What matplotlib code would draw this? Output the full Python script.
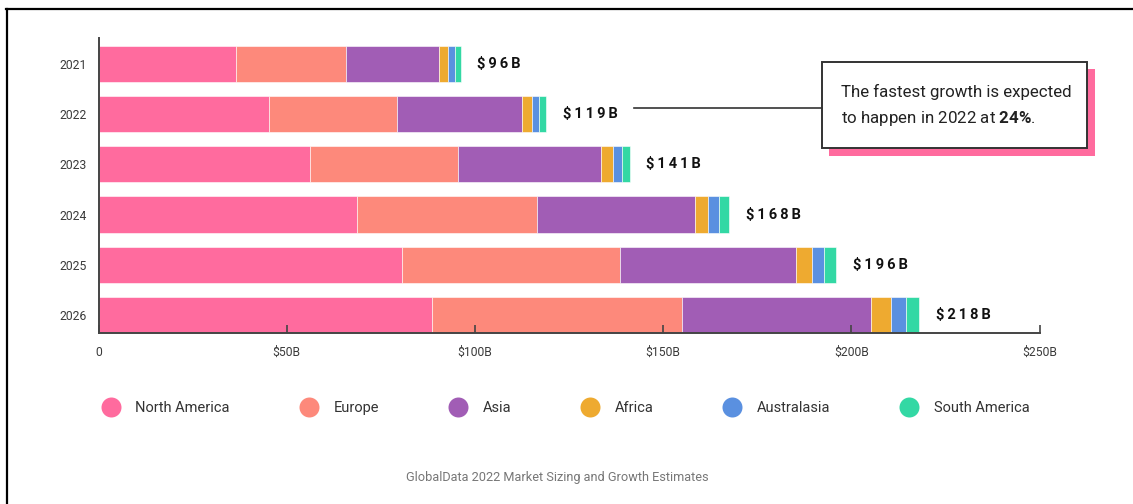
import matplotlib.pyplot as plt
from matplotlib.patches import Rectangle
from matplotlib.lines import Line2D

plt.rcParams['font.family'] = ['Roboto', 'DejaVu Sans']
plt.rcParams['mathtext.fontset'] = 'custom'
plt.rcParams['mathtext.rm'] = 'Roboto'
plt.rcParams['mathtext.bf'] = 'Roboto:bold'

years = ['2021', '2022', '2023', '2024', '2025', '2026']
regions = ['North America', 'Europe', 'Asia', 'Africa', 'Australasia', 'South America']
north_america = [36.5, 45.3, 56.2, 68.7, 80.6, 88.5]
europe = [29.3, 34.0, 39.4, 47.7, 58.0, 66.4]
asia = [24.6, 33.1, 38.0, 42.0, 46.6, 50.3]
africa = [2.4, 2.7, 3.1, 3.6, 4.3, 5.3]
australasia = [1.9, 2.0, 2.4, 2.8, 3.2, 4.0]
south_america = [1.5, 1.9, 2.0, 2.7, 3.3, 3.6]
totals = ['$96B', '$119B', '$141B', '$168B', '$196B', '$218B']
xticks = [0, 50, 100, 150, 200, 250]
xticklabels = ['0', '$50B', '$100B', '$150B', '$200B', '$250B']
colors = ['#ff6b9e', '#fd897b', '#a15db5', '#eeaa30', '#5a90e0', '#33d8a4']

fig = plt.figure(figsize=(11.33, 5.04), dpi=100)
ax = fig.add_axes([0.087, 0.3387, 0.8305, 0.5853])

ypos = [5 - i for i in range(len(years))]
series = [north_america, europe, asia, africa, australasia, south_america]
left = [0.0] * len(years)
for vals, c in zip(series, colors):
    ax.barh(ypos, vals, left=left, height=0.72, color=c, edgecolor='white', linewidth=0.4)
    left = [l + v for l, v in zip(left, vals)]

for y, end, lab in zip(ypos, left, totals):
    ax.annotate('\u2009'.join(lab).replace('$', r'\$'), (end, y), xytext=(12, 0),
                textcoords='offset points', va='center', ha='left',
                fontsize=10.5, fontweight='bold', color='#111111')

ax.set_xlim(0, 250)
ax.set_ylim(-0.36, 5.505)
ax.set_yticks(ypos)
ax.set_yticklabels(years)
ax.set_xticks(xticks)
ax.set_xticklabels([t.replace('$', r'\$') for t in xticklabels])
ax.tick_params(axis='y', length=0, pad=8.5, labelsize=8.7, labelcolor='#3a3a3a')
ax.tick_params(axis='x', direction='in', length=6, width=1.2, color='#444444',
               pad=9, labelsize=8.7, labelcolor='#3a3a3a')
for s in ['top', 'right']:
    ax.spines[s].set_visible(False)
for s in ['left', 'bottom']:
    ax.spines[s].set_color('#444444')
    ax.spines[s].set_linewidth(1.4)

# callout box with pink shadow
W, H = 1133.0, 504.0
fig.add_artist(Rectangle((829.4 / W, 1 - 156 / H), 265.7 / W, 86.6 / H,
                         transform=fig.transFigure, facecolor='#ff6b9e', edgecolor='none'))
fig.add_artist(Rectangle((821.7 / W, 1 - 148.3 / H), 265.7 / W, 86.6 / H,
                         transform=fig.transFigure, facecolor='white',
                         edgecolor='#333333', linewidth=1.4))
fig.add_artist(Line2D([634 / W, 821.7 / W], [1 - 108.3 / H, 1 - 108.3 / H],
                      transform=fig.transFigure, color='#333333', linewidth=1.2))
fig.text(841.4 / W, 1 - 91.7 / H, 'The fastest growth is expected', fontsize=12.2,
         color='#222222', va='center', ha='left')
fig.text(841.4 / W, 1 - 118.3 / H, r'to happen in 2022 at $\mathbf{24\%}$.', fontsize=12.2,
         color='#222222', va='center', ha='left')

# legend
handles = [Line2D([], [], marker='o', linestyle='none', markersize=14.4,
                  markerfacecolor=c, markeredgecolor='none') for c in colors]
fig.legend(handles, regions, loc='center', bbox_to_anchor=(0.5, 1 - 408 / H), ncol=6,
           frameon=False, fontsize=10.5, handlelength=1.0, handletextpad=1.2,
           columnspacing=4.9, labelcolor='#333333')

fig.text(0.492, 1 - 478 / H, 'GlobalData 2022 Market Sizing and Growth Estimates',
         fontsize=9.2, color='#777777', ha='center', va='center')

# outer frame (top and left edges)
fig.add_artist(Line2D([6 / W, 1], [1 - 9 / H, 1 - 9 / H], transform=fig.transFigure,
                      color='black', linewidth=1.6))
fig.add_artist(Line2D([6.5 / W, 6.5 / W], [0, 1 - 9 / H], transform=fig.transFigure,
                      color='black', linewidth=1.6))

fig.savefig('out.png', dpi=100)
